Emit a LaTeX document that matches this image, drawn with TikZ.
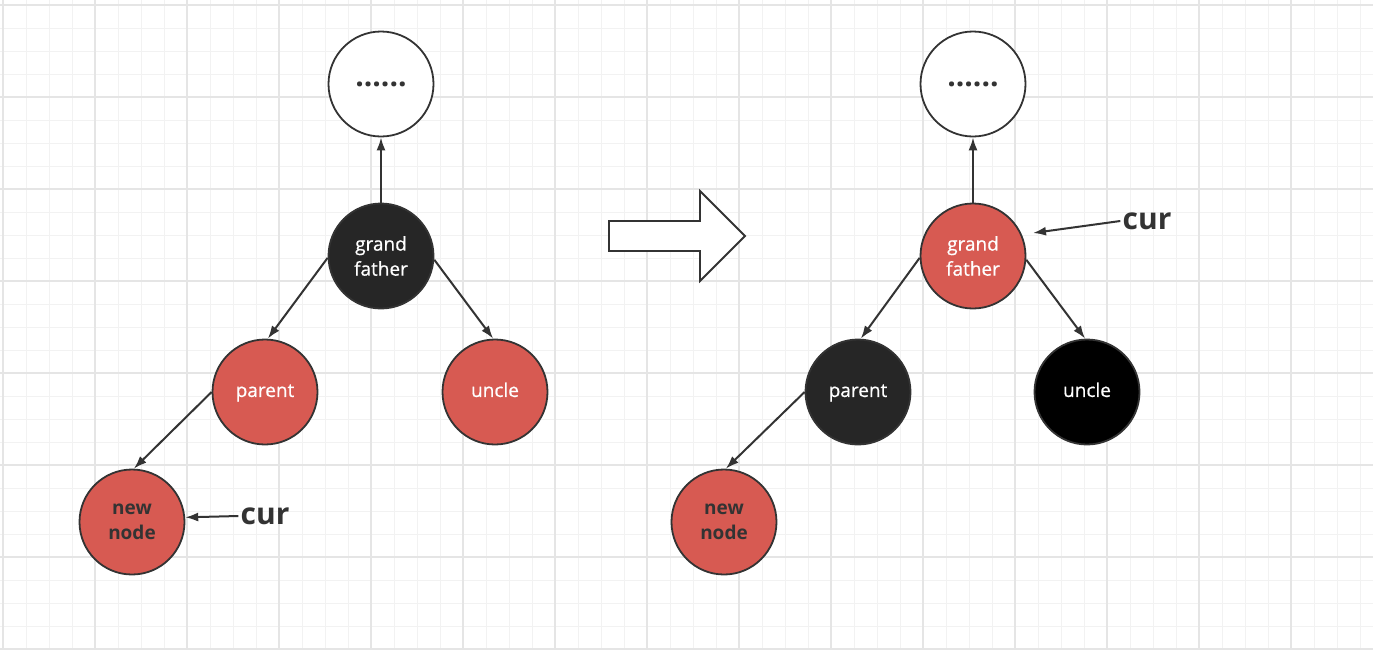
\documentclass[tikz,border=0pt]{standalone}
\usepackage{fontspec}
\setmainfont{Open Sans}
\newfontfamily\nodefont[FakeBold=0.7]{Open Sans}
\usetikzlibrary{arrows.meta,positioning}
\definecolor{rbred}{HTML}{D75A52}
\definecolor{rbdark}{HTML}{262626}
\definecolor{rbline}{HTML}{333333}
\tikzset{
every node/.style={circle,draw=rbline,line width=1.8pt,minimum size=105pt,inner sep=0pt,align=center,font=\nodefont\fontsize{19}{25}\selectfont},
topnode/.style= {fill=white,text=rbline,font=\fontsize{30}{25}\selectfont\bfseries},
rednode/.style= {fill=rbred,text=white},
darkred/.style= {fill=rbred,text=rbline,font=\fontsize{19}{25}\selectfont\bfseries},
blacknode/.style= {fill=rbdark,text=white},
curlabel/.style= {draw=none,minimum size=0pt,fill=none,text=rbline,font=\fontsize{30}{30}\selectfont\bfseries},
minorline/.style= {draw=black!5,line width=1pt},
majorline/.style= {draw=black!10,line width=1.3pt},
edge/.style= {->,draw=rbline,line width=2pt}
}

\begin{document}
\begin{tikzpicture}[x=1pt,y=-1pt,>={Latex[length=13pt,width=9pt]}]
\useasboundingbox (0,0) rectangle (1373,649);
\fill[white] (0,0) rectangle (1373,649);

% grid
\foreach \i in {0,...,59}
  \draw[minorline] (3+23*\i,0) -- (3+23*\i,649);
\foreach \i in {0,...,27}
  \draw[minorline] (0,5+23*\i) -- (1373,5+23*\i);
\foreach \i in {0,...,14}
  \draw[majorline] (3+92*\i,0) -- (3+92*\i,649);
\foreach \i in {0,...,7}
  \draw[majorline] (0,5+92*\i) -- (1373,5+92*\i);

% before
\node[topnode] (topL) at (381,84) {......};
\node[blacknode] (gfL) at (381,256) {grand\\father};
\node[rednode] (parL) at (265,392) {parent\vphantom{l}};
\node[rednode] (uncL) at (495,392) {uncle\vphantom{p}};
\node[darkred] (newL) at (132,522) {new\\node};
\node[curlabel] (curL) at (265,516) {cur};

\draw[edge] (gfL.north) -- (topL.south);
\draw[edge] (gfL.182) -- (parL.87);
\draw[edge] (gfL.356) -- (uncL.92);
\draw[edge] (parL.west) -- (newL.88);
\draw[edge] (curL.west) -- (newL.5);

% big arrow
\draw[draw=rbline,line width=1.8pt,fill=white] (609,221) -- (700,221) -- (700,191) -- (745,236) -- (700,281) -- (700,251) -- (609,251) -- cycle;

% after
\node[topnode] (topR) at (973,84) {......};
\node[rednode] (gfR) at (973,256) {grand\\father};
\node[blacknode] (parR) at (858,392) {parent\vphantom{l}};
\node[blacknode,fill=black] (uncR) at (1087,392) {uncle\vphantom{p}};
\node[darkred] (newR) at (724,522) {new\\node};
\node[curlabel] (curR) at (1147,221) {cur};
\coordinate (tipR) at (1033,233);

\draw[edge] (gfR.north) -- (topR.south);
\draw[edge] (gfR.182) -- (parR.87);
\draw[edge] (gfR.356) -- (uncR.92);
\draw[edge] (parR.west) -- (newR.88);
\draw[edge] (curR.west) -- (tipR);
\end{tikzpicture}
\end{document}
